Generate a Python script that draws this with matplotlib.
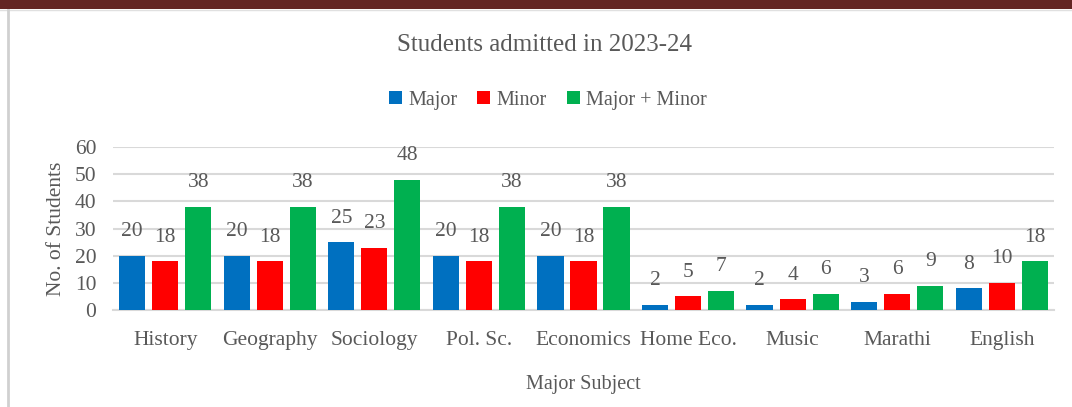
import numpy as np
import matplotlib as mpl
mpl.use('Agg')
import matplotlib.pyplot as plt
from matplotlib.patches import Rectangle, Patch
from matplotlib.lines import Line2D

subjects = ['History', 'Geography', 'Sociology', 'Pol. Sc.', 'Economics',
            'Home Eco.', 'Music', 'Marathi', 'English']
major = [20, 20, 25, 20, 20, 2, 2, 3, 8]
minor = [18, 18, 23, 18, 18, 5, 4, 6, 10]
both = [38, 38, 48, 38, 38, 7, 6, 9, 18]
series_names = ['Major', 'Minor', 'Major + Minor']
colors = ['#0070C0', '#FF0000', '#00B050']

txt = '#595959'
plt.rcParams['font.family'] = ['Liberation Serif', 'DejaVu Serif']
fs = 15.5

fig = plt.figure(figsize=(10.72, 4.07), dpi=100)
ax = fig.add_axes([0.1054, 0.2383, 0.8778, 0.4005])

x = np.arange(len(subjects))
w = 0.25
step = 0.316
for i, (vals, c) in enumerate(zip([major, minor, both], colors)):
    pos = x + (i - 1) * step
    ax.bar(pos, vals, width=w, color=c, zorder=3)
    for px, v in zip(pos, vals):
        ax.annotate(str(v), (px, v), xytext=(0, 24), textcoords='offset pixels',
                    ha='center', va='center', fontsize=fs, color=txt)

ax.set_xlim(-0.5, len(subjects) - 0.5)
ax.set_ylim(0, 60)
ax.set_yticks(range(0, 61, 10))
ax.set_xticks(x)
ax.set_xticklabels(subjects)
ax.grid(axis='y', color='#d9d9d9', linewidth=1.5, zorder=0)
ax.tick_params(length=0, labelsize=fs, labelcolor=txt)
ax.tick_params(axis='x', pad=15)
ax.tick_params(axis='y', pad=12)
for s in ['top', 'right', 'left']:
    ax.spines[s].set_visible(False)
ax.spines['bottom'].set_color('#d9d9d9')
ax.spines['bottom'].set_linewidth(1.5)

ax.set_ylabel('No. of Students', fontsize=fs, color=txt, labelpad=6)
ax.set_xlabel('Major Subject', fontsize=fs - 1, color=txt, labelpad=18)

fig.text(0.508, 0.889, 'Students admitted in 2023-24', ha='center', va='center',
         fontsize=18, color=txt)

handles = [Patch(facecolor=c, edgecolor='none') for c in colors]
fig.legend(handles, series_names, loc='center', bbox_to_anchor=(0.511, 0.754),
           ncol=3, frameon=False, fontsize=fs - 1, labelcolor=txt,
           handlelength=0.65, handleheight=0.65, handletextpad=0.3, columnspacing=1.0)

# page decorations: dark band at the top and a thin border on the left
fig.patches.append(Rectangle((0, 1 - 9 / 407), 1, 9 / 407, transform=fig.transFigure,
                             facecolor='#632523', edgecolor='none'))
fig.lines.append(Line2D([0, 1], [1 - 9.5 / 407] * 2, transform=fig.transFigure,
                        color='#e0e0e0', linewidth=1))
fig.lines.append(Line2D([7.5 / 1072] * 2, [0, 1 - 9.5 / 407], transform=fig.transFigure,
                        color='#d0d0d0', linewidth=2))

fig.savefig('out.png', dpi=100)
